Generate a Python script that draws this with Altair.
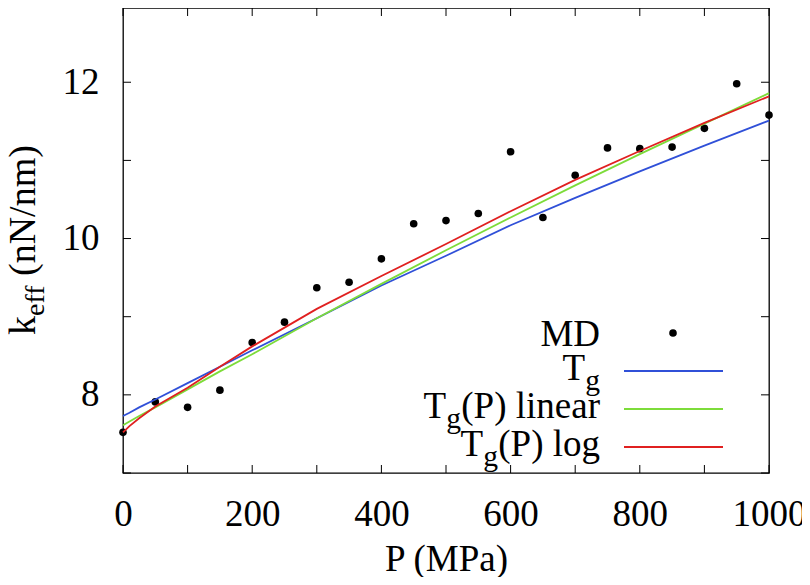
import altair as alt
import pandas as pd

FONT = "Liberation Serif, Times New Roman, Times, DejaVu Serif, serif"

# MD data points
P_md = [0, 50, 100, 150, 200, 250, 300, 350, 400, 450, 500,
        550, 600, 650, 700, 750, 800, 850, 900, 950, 1000]
k_md = [7.52, 7.91, 7.84, 8.06, 8.67, 8.93, 9.37, 9.44, 9.74, 10.19, 10.23,
        10.32, 11.11, 10.27, 10.81, 11.16, 11.15, 11.17, 11.41, 11.98, 11.58]

# model curves
P_fit = [0, 10, 25, 50, 100, 150, 200, 300, 400, 500, 600, 700, 800, 900, 1000]
k_tg = [7.73, 7.77, 7.84, 7.94, 8.15, 8.36, 8.57, 8.98, 9.40, 9.78, 10.17, 10.52, 10.86, 11.19, 11.51]
k_tg_lin = [7.61, 7.66, 7.73, 7.84, 8.07, 8.30, 8.52, 8.98, 9.42, 9.85, 10.27, 10.68, 11.08, 11.47, 11.86]
k_tg_log = [7.52, 7.60, 7.70, 7.85, 8.09, 8.36, 8.62, 9.10, 9.52, 9.93, 10.35, 10.75, 11.12, 11.48, 11.82]

x_ticks = [0, 100, 200, 300, 400, 500, 600, 700, 800, 900, 1000]
x_labels = [0, 200, 400, 600, 800, 1000]
y_ticks = [7, 8, 9, 10, 11, 12]
y_labels = [8, 10, 12]

series_names = ["T_g", "T_g(P) linear", "T_g(P) log"]
series_colors = ["#3050d8", "#7ddc3a", "#e02020"]

W, H = 646, 465

md_df = pd.DataFrame({"P": P_md, "k": k_md})
fit_df = pd.concat([
    pd.DataFrame({"P": P_fit, "k": vals, "model": name})
    for name, vals in zip(series_names, [k_tg, k_tg_lin, k_tg_log])
])
xt_df = pd.DataFrame({"P": x_ticks})
yt_df = pd.DataFrame({"k": y_ticks})
one = pd.DataFrame({"_": [0]})

xs = alt.Scale(domain=[0, 1000], nice=False, zero=False)
ys = alt.Scale(domain=[7, 12.95], nice=False, zero=False)

x_axis = alt.Axis(values=x_labels, format="d", grid=False, ticks=False, domain=False,
                  labelFont=FONT, labelFontSize=37, labelColor="black",
                  labelPadding=23, labelFlush=False, labelBaseline="top",
                  labelOverlap=False,
                  title="P (MPa)", titleFont=FONT, titleFontSize=37,
                  titleFontWeight="normal", titleColor="black",
                  titleBaseline="alphabetic", titleY=97)
y_axis = alt.Axis(values=y_labels, format="d", grid=False, ticks=False, domain=False,
                  labelFont=FONT, labelFontSize=37, labelColor="black",
                  labelPadding=24, labelFlush=False, labelOverlap=False,
                  title="")

X = alt.X("P:Q", scale=xs, axis=x_axis)
Y = alt.Y("k:Q", scale=ys, axis=y_axis)

points = alt.Chart(md_df).mark_circle(size=58, color="black", opacity=1).encode(
    x=X, y=Y,
)

def curve(name, color):
    return alt.Chart(fit_df).transform_filter(
        alt.datum.model == name
    ).mark_line(color=color, strokeWidth=1.8).encode(x=X, y=Y)

curves = [curve(n, c) for n, c in zip(series_names, series_colors)]

tick_len = 8
ticks = [
    alt.Chart(xt_df).mark_rule(color="black", strokeWidth=1).encode(
        x=X, y=alt.value(H), y2=alt.value(H - tick_len)),
    alt.Chart(xt_df).mark_rule(color="black", strokeWidth=1).encode(
        x=X, y=alt.value(0), y2=alt.value(tick_len)),
    alt.Chart(yt_df).mark_rule(color="black", strokeWidth=1).encode(
        y=Y, x=alt.value(0), x2=alt.value(tick_len)),
    alt.Chart(yt_df).mark_rule(color="black", strokeWidth=1).encode(
        y=Y, x=alt.value(W), x2=alt.value(W - tick_len)),
]

def txt(s, x, y, size, align="right", angle=0):
    return alt.Chart(one).mark_text(
        text=s, align=align, baseline="alphabetic", font=FONT, fontSize=size,
        color="black", angle=angle
    ).encode(x=alt.value(x), y=alt.value(y))

MAIN, SUB, SUBDY = 37, 29.6, 10
texts = [
    # y-axis title (rotated)
    txt("k", -88, 327, 38, align="left", angle=270),
    txt("eff", -79, 308, 28, align="left", angle=270),
    txt("(nN/nm)", -88, 268, 38, align="left", angle=270),
    # legend labels
    txt("MD", 477, 338, MAIN),
    txt("g", 477, 372 + SUBDY, SUB),
    txt("T", 462, 372, MAIN),
    txt("(P) linear", 477, 410, MAIN),
    txt("g", 338, 410 + SUBDY, SUB),
    txt("T", 323, 410, MAIN),
    txt("(P) log", 477, 448, MAIN),
    txt("g", 375, 448 + SUBDY, SUB),
    txt("T", 360, 448, MAIN),
]

legend_marks = [
    alt.Chart(one).mark_circle(size=58, color="black", opacity=1).encode(
        x=alt.value(550), y=alt.value(325)),
]
for yy, c in zip([363, 401, 439], series_colors):
    legend_marks.append(
        alt.Chart(one).mark_rule(color=c, strokeWidth=1.8).encode(
            x=alt.value(501), x2=alt.value(600), y=alt.value(yy))
    )

chart = alt.layer(points, *curves, *ticks, *texts, *legend_marks).properties(
    width=W, height=H,
    autosize=alt.AutoSizeParams(type="none"),
    padding={"left": 115, "top": 0, "right": 33, "bottom": 104},
).configure_view(stroke="black", strokeWidth=1.3)

chart.save("out.html", embed_options={"renderer": "svg", "actions": False})
